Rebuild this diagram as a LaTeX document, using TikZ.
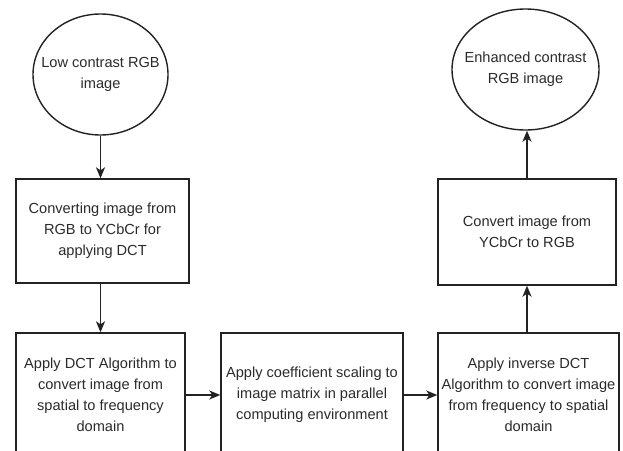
\documentclass[tikz,border=0pt]{standalone}
\usepackage{fontspec}
\setmainfont{Liberation Sans}
\newfontfamily\serifcap{Liberation Serif}
\usetikzlibrary{shapes.geometric,arrows.meta}
\definecolor{inkline}{HTML}{222222}
\definecolor{inktext}{HTML}{2A2A2A}
\begin{document}
\begin{tikzpicture}[x=1pt,y=-1pt,
  every node/.style={inner sep=0pt},
  txt/.style={font=\fontsize{14.6}{21}\selectfont, text=inktext, align=center},
  stepbox/.style={draw=inkline, line width=1.4pt, rectangle},
  terminal/.style={draw=inkline, line width=1.4pt, ellipse},
  arr/.style={draw=inkline, line width=1.4pt, -{Stealth[length=11pt,width=9pt,inset=3pt]}},
]
\useasboundingbox (0,0) rectangle (623,450);
\clip (0,0) rectangle (623,450);

% tail of the caption line above the chart
\node[anchor=base, font=\serifcap\fontsize{18}{20}\selectfont, text=inkline] (captail) at (79,-3.5) {g};

% start and end terminals
\node[terminal, minimum width=135pt, minimum height=121pt,
  label={[txt]center:{Low contrast RGB\\image}}] (in) at (100.5,74.5) {};
\node[terminal, minimum width=147pt, minimum height=121pt,
  label={[txt]center:{Enhanced contrast\\RGB image}}] (out) at (525.5,69.5) {};

% processing steps
\node[stepbox, minimum width=173pt, minimum height=104pt, txt] (b1) at (102.5,231)
  {Converting image from\\RGB to YCbCr for\\applying DCT};
\node[stepbox, minimum width=169pt, minimum height=124pt, txt] (b2) at (100.5,395)
  {Apply DCT Algorithm to\\convert image from\\spatial to frequency\\domain};
\node[stepbox, minimum width=182pt, minimum height=124pt, txt] (b3) at (312,395)
  {Apply coefficient scaling to\\image matrix in parallel\\computing environment};
\node[stepbox, minimum width=181pt, minimum height=124pt, txt] (b4) at (528.5,395)
  {Apply inverse DCT\\Algorithm to convert image\\from frequency to spatial\\domain};
\node[stepbox, minimum width=178pt, minimum height=106pt, txt] (b5) at (527,232)
  {Convert image from\\YCbCr to RGB};

% flow
\draw[arr] (in.south) -- (in.south |- b1.north);
\draw[arr] (b2.north |- b1.south) -- (b2.north);
\draw[arr] (b2.east) -- (b3.west);
\draw[arr] (b3.east) -- (b4.west);
\draw[arr] (b5.south |- b4.north) -- (b5.south);
\draw[arr] (b5.north) -- (b5.north |- out.south);
\end{tikzpicture}
\end{document}
